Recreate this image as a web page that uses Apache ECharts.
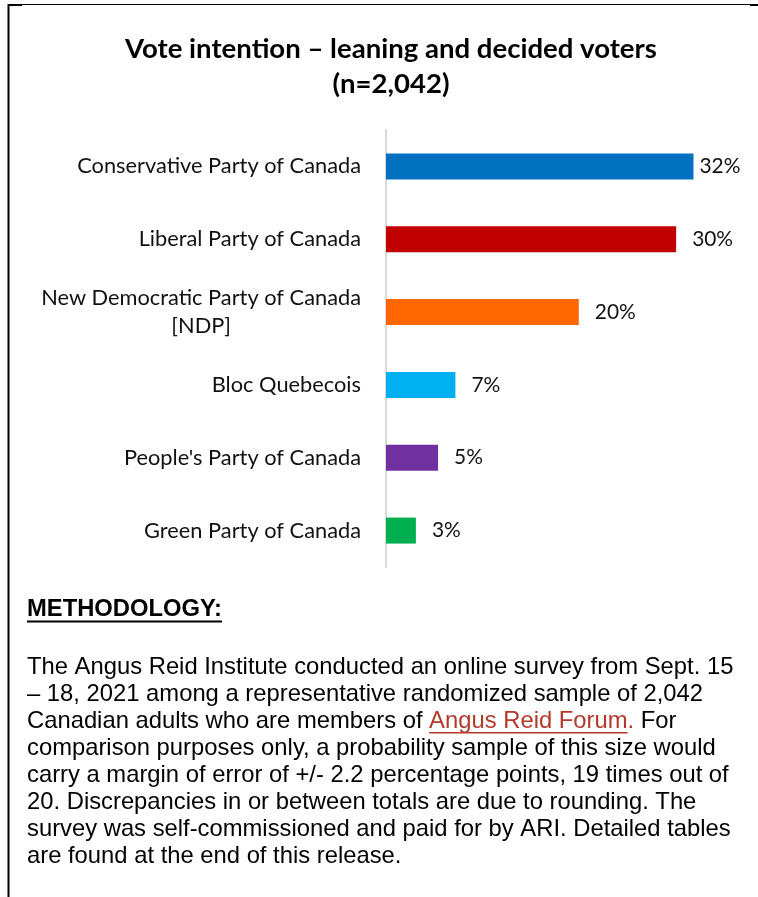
<!DOCTYPE html>
<html>
<head>
<meta charset="utf-8">
<script src="https://cdn.jsdelivr.net/npm/echarts@6/dist/echarts.min.js"></script>
<style>
html,body{margin:0;padding:0;background:#fff;}
#chart{width:758px;height:897px;}
</style>
</head>
<body>
<div id="chart"></div>
<script>
// ---- data ----
const titleLines = ['Vote intention \u2013 leaning and decided voters', '(n=2,042)'];
const categories = [
  'Conservative Party of Canada',
  'Liberal Party of Canada',
  'New Democratic Party of Canada\n[NDP]',
  'Bloc Quebecois',
  "People's Party of Canada",
  'Green Party of Canada'
];
const values = [31.9, 30.1, 20.0, 7.2, 5.4, 3.1];
const barColors = ['#0070C0', '#C00000', '#FF6600', '#00B0F0', '#7030A0', '#00B050'];
const methodologyHeading = 'METHODOLOGY:';
const methodologyLines = [
  'The Angus Reid Institute conducted an online survey from Sept. 15',
  '\u2013 18, 2021 among a representative randomized sample of 2,042',
  ['Canadian adults who are members of ', 'Angus Reid Forum', '.', ' For'],
  'comparison purposes only, a probability sample of this size would',
  'carry a margin of error of +/- 2.2 percentage points, 19 times out of',
  '20. Discrepancies in or between totals are due to rounding. The',
  'survey was self-commissioned and paid for by ARI. Detailed tables',
  'are found at the end of this release.'
];

// ---- helpers ----
const cv = document.createElement('canvas').getContext('2d');
function textW(text, weight, size, family) {
  cv.font = weight + ' ' + size + 'px ' + family;
  return cv.measureText(text).width;
}
function fitSize(text, weight, family, target) {
  return 100 * target / textW(text, weight, 100, family);
}

const LABEL_FONT = 'Lato';
const BODY_FONT = 'Liberation Sans';
const titleSize = fitSize(titleLines[0], 'bold', LABEL_FONT, 532);
const catSize = fitSize(categories[0], 'normal', LABEL_FONT, 284);
const valSize = fitSize('32%', 'normal', LABEL_FONT, 41);
const bodySize = fitSize(methodologyLines[0], 'normal', BODY_FONT, 707);
const headSize = fitSize(methodologyHeading, 'bold', BODY_FONT, 195);

const chart = echarts.init(document.getElementById('chart'), null, {renderer: 'canvas'});

function catFormatter(v) {
  if (v.indexOf('\n') < 0) return v;
  const parts = v.split('\n');
  const w = Math.max.apply(null, parts.map(p => textW(p, 'normal', catSize, LABEL_FONT)));
  catRich.c.width = Math.ceil(w);
  return parts.map(p => '{c|' + p + '}').join('\n');
}
const catRich = {c: {align: 'center', fontSize: catSize, fontFamily: LABEL_FONT, color: '#111', lineHeight: 28}};

const bodyLH = 27;
const bodyTop = 653.5;
const bodyX = 27;
const bodyText = methodologyLines.map(l => {
  if (Array.isArray(l)) return l[0] + '{link|' + l[1] + '}{link|' + l[2] + '}' + l[3];
  return l;
}).join('\n');
const linkLine = methodologyLines.findIndex(l => Array.isArray(l));
const linkParts = methodologyLines[linkLine];
const linkX1 = bodyX + textW(linkParts[0], 'normal', bodySize, BODY_FONT);
const linkX2 = linkX1 + textW(linkParts[1], 'normal', bodySize, BODY_FONT);
const linkY = bodyTop + linkLine * bodyLH + bodyLH / 2 + 0.36 * bodySize + 2.5;
const headY = 609;
const headW = textW(methodologyHeading, 'bold', headSize, BODY_FONT);

const option = {
  animation: false,
  title: {
    text: titleLines.join('\n'),
    left: 386,
    top: 27,
    textAlign: 'center',
    textStyle: {fontFamily: LABEL_FONT, fontWeight: 'bold', fontSize: titleSize, lineHeight: 35, color: '#000'}
  },
  grid: {left: 386, top: 130, height: 437, width: 347, containLabel: false},
  xAxis: {type: 'value', min: 0, max: 36, show: false},
  yAxis: {
    type: 'category',
    data: categories,
    inverse: true,
    axisLine: {show: true, lineStyle: {color: '#D9D9D9', width: 2}},
    axisTick: {show: false},
    axisLabel: {
      margin: 25, fontFamily: LABEL_FONT, fontSize: catSize, color: '#111', lineHeight: 28,
      formatter: catFormatter, rich: catRich
    }
  },
  series: [{
    type: 'bar',
    barWidth: 26,
    data: values.map((v, i) => ({
      value: v,
      itemStyle: {color: barColors[i]},
      label: {distance: i === 0 ? 6 : 16}
    })),
    label: {
      show: true, position: 'right',
      fontFamily: LABEL_FONT, fontSize: valSize, color: '#111',
      formatter: p => Math.round(p.value) + '%'
    }
  }],
  graphic: [
    // frame
    {type: 'line', shape: {x1: 8, y1: 4.5, x2: 752, y2: 4.5}, style: {stroke: '#000', lineWidth: 1}},
    {type: 'rect', shape: {x: 8, y: 4, width: 14, height: 2}, style: {fill: '#000'}},
    {type: 'rect', shape: {x: 750, y: 4, width: 8, height: 2}, style: {fill: '#000'}},
    {type: 'rect', shape: {x: 7.5, y: 4, width: 2, height: 893}, style: {fill: '#000'}},
    // methodology heading
    {type: 'text', x: bodyX, y: headY, style: {
      text: methodologyHeading, fill: '#000', fontFamily: BODY_FONT, fontWeight: 'bold',
      fontSize: headSize, verticalAlign: 'middle'}},
    {type: 'rect', shape: {x: bodyX, y: headY + 0.36 * headSize + 3, width: headW, height: 2}, style: {fill: '#000'}},
    // methodology body
    {type: 'text', x: bodyX, y: bodyTop, style: {
      text: bodyText, fill: '#000', fontFamily: BODY_FONT, fontSize: bodySize,
      lineHeight: bodyLH, verticalAlign: 'top',
      rich: {link: {fill: '#B3392B', fontFamily: BODY_FONT, fontSize: bodySize, lineHeight: bodyLH}}}},
    {type: 'rect', shape: {x: linkX1, y: linkY, width: linkX2 - linkX1, height: 1.5}, style: {fill: '#B3392B'}}
  ]
};
chart.setOption(option);
</script>
</body>
</html>
